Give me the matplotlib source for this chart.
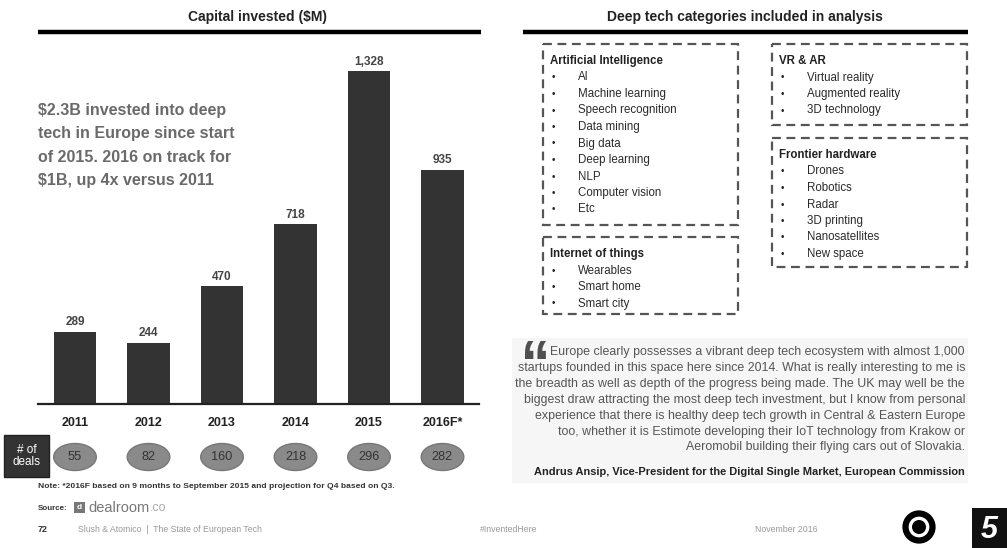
import matplotlib.pyplot as plt
from matplotlib.patches import Rectangle, Ellipse, Circle, PathPatch
from matplotlib.transforms import blended_transform_factory, Affine2D
from matplotlib.textpath import TextPath
from matplotlib.font_manager import FontProperties

years = ["2011", "2012", "2013", "2014", "2015", "2016F*"]
capital = [289, 244, 470, 718, 1328, 935]
deals = [55, 82, 160, 218, 296, 282]

categories = {
    "Artificial Intelligence": ["AI", "Machine learning", "Speech recognition", "Data mining",
                                "Big data", "Deep learning", "NLP", "Computer vision", "Etc"],
    "Internet of things": ["Wearables", "Smart home", "Smart city"],
    "VR & AR": ["Virtual reality", "Augmented reality", "3D technology"],
    "Frontier hardware": ["Drones", "Robotics", "Radar", "3D printing", "Nanosatellites", "New space"],
}

headline = ["$2.3B invested into deep", "tech in Europe since start",
            "of 2015. 2016 on track for", "$1B, up 4x versus 2011"]

quote_lines = [
    "Europe clearly possesses a vibrant deep tech ecosystem with almost 1,000",
    "startups founded in this space here since 2014. What is really interesting to me is",
    "the breadth as well as depth of the progress being made. The UK may well be the",
    "biggest draw attracting the most deep tech investment, but I know from personal",
    "experience that there is healthy deep tech growth in Central & Eastern Europe",
    "too, whether it is Estimote developing their IoT technology from Krakow or",
    "Aeromobil building their flying cars out of Slovakia.",
]
attribution = "Andrus Ansip, Vice-President for the Digital Single Market, European Commission"

W, H = 1007, 548
plt.rcParams["font.family"] = ["Liberation Sans", "DejaVu Sans"]
fig = plt.figure(figsize=(W / 100, H / 100), dpi=100)
fig.patch.set_facecolor("white")

# full-page layer in pixel coordinates (y down)
pg = fig.add_axes([0, 0, 1, 1], zorder=0)
pg.set_xlim(0, W)
pg.set_ylim(H, 0)
pg.axis("off")

# ---- left panel: bar chart ----
pg.text(258, 17, "Capital invested ($M)", ha="center", va="center",
        fontsize=10, fontweight="bold", color="#222")
pg.plot([38, 481], [32, 32], color="black", lw=3.2, solid_capstyle="butt")

base_y, top_y = 404, 53
x0, x1 = 38.25, 479.25
ax = fig.add_axes([x0 / W, (H - base_y) / H, (x1 - x0) / W, (base_y - top_y) / H], zorder=2)
ax.patch.set_alpha(0)
xs = list(range(len(years)))
ax.bar(xs, capital, width=0.585, color="#333333")
ax.set_xlim(-0.5, len(years) - 0.5)
ax.set_ylim(0, 1400)
for s in ["top", "right", "left"]:
    ax.spines[s].set_visible(False)
ax.spines["bottom"].set_linewidth(1.6)
ax.spines["bottom"].set_color("#222")
ax.set_xticks([])
ax.set_yticks([])
for x, v in zip(xs, capital):
    ax.annotate(f"{v:,}", (x, v), xytext=(0, 2.5), textcoords="offset points",
                ha="center", va="bottom", fontsize=8.5, fontweight="bold", color="#444")

tr = blended_transform_factory(ax.transData, ax.transAxes)
axh = base_y - top_y
for x, y, d in zip(xs, years, deals):
    ax.text(x, -19 / axh, y, transform=tr, ha="center", va="center",
            fontsize=9, fontweight="bold", color="#222", clip_on=False)
    ax.add_patch(Ellipse((x, -53 / axh), 0.58, 27 / axh, transform=tr,
                         facecolor="#8a8a8a", edgecolor="#777", clip_on=False))
    ax.text(x, -53 / axh, str(d), transform=tr, ha="center", va="center",
            fontsize=9.2, color="#333", clip_on=False)

pg.add_patch(Rectangle((4, 435), 45, 42, facecolor="#333333", edgecolor="#222"))
pg.text(26.5, 456, "# of\ndeals", ha="center", va="center", fontsize=8.5,
        color="white", linespacing=1.05)

for i, line in enumerate(headline):
    pg.text(38, 110 + i * 23.5, line, ha="left", va="center", fontsize=11.5,
            fontweight="bold", color="#6a6a6a")

# ---- right panel: category boxes ----
pg.text(745, 17, "Deep tech categories included in analysis", ha="center", va="center",
        fontsize=10, fontweight="bold", color="#222")
pg.plot([523, 968], [32, 32], color="black", lw=3.2, solid_capstyle="butt")

boxes = {
    "Artificial Intelligence": (543, 44, 738, 225),
    "Internet of things": (543, 237, 738, 314),
    "VR & AR": (772, 44, 967, 125),
    "Frontier hardware": (772, 138, 967, 267),
}
for name, (bx0, by0, bx1, by1) in boxes.items():
    pg.add_patch(Rectangle((bx0, by0), bx1 - bx0, by1 - by0, fill=False,
                           edgecolor="#555", lw=1.6, linestyle=(0, (4, 2.5))))
    pg.text(bx0 + 7, by0 + 17, name, ha="left", va="center", fontsize=8.3,
            fontweight="bold", color="#222")
    for j, item in enumerate(categories[name]):
        yy = by0 + 33.5 + j * 16.5
        pg.text(bx0 + 10, yy, "\u2022", ha="center", va="center", fontsize=7, color="#222")
        pg.text(bx0 + 35, yy, item, ha="left", va="center", fontsize=8.3, color="#2a2a2a")

# ---- quote ----
pg.add_patch(Rectangle((512, 338), 456, 145, facecolor="#f6f6f6", edgecolor="none", zorder=0))
# big opening quote mark as an outline path, fitted into its spot
qp = TextPath((0, 0), "\u201c", size=10,
              prop=FontProperties(family="Liberation Sans", weight="bold"))
ext = qp.get_extents()
qx0, qy0, qx1, qy1 = 525, 341, 546, 359
sx = (qx1 - qx0) / ext.width
sy = (qy1 - qy0) / ext.height
qt = Affine2D().translate(-ext.x0, -ext.y1).scale(sx, -sy).translate(qx0, qy0)
pg.add_patch(PathPatch(qt.transform_path(qp), facecolor="#505050", edgecolor="none"))
for k, line in enumerate(quote_lines):
    pg.text(965, 352 + k * 15.9, line, ha="right", va="center", fontsize=8.9, color="#555")
pg.text(965, 472, attribution, ha="right", va="center", fontsize=7.9, fontweight="bold",
        color="#222")

# ---- footer ----
pg.text(38, 487, "Note: *2016F based on 9 months to September 2015 and projection for Q4 based on Q3.",
        ha="left", va="center", fontsize=6.1, fontweight="bold", color="#333")
pg.text(38, 508, "Source:", ha="left", va="center", fontsize=5.8, fontweight="bold", color="#333")
pg.add_patch(Rectangle((74, 502), 11, 11, facecolor="#777", edgecolor="none"))
pg.text(79.5, 507.5, "d", ha="center", va="center", fontsize=6, color="white", fontweight="bold")
dr = pg.text(88, 508, "dealroom", ha="left", va="center", fontsize=10.5, color="#777")
pg.annotate(".co", xy=(1, 0.5), xycoords=dr, xytext=(0.5, 0), textcoords="offset points",
            ha="left", va="center", fontsize=9, color="#aaa")
pg.text(38, 530, "72", ha="left", va="center", fontsize=6.5, fontweight="bold", color="#333")
pg.text(78, 530, "Slush & Atomico  |  The State of European Tech", ha="left", va="center",
        fontsize=6.3, color="#999")
pg.text(480, 530, "#InventedHere", ha="left", va="center", fontsize=6.3, color="#999")
pg.text(786, 530, "November 2016", ha="center", va="center", fontsize=6.3, color="#999")

# logos
pg.add_patch(Circle((919, 527), 13.5, fill=False, edgecolor="black", lw=4.5))
pg.add_patch(Circle((919, 527), 7, facecolor="black", edgecolor="none"))
pg.add_patch(Rectangle((972, 508), 35, 40, facecolor="#111", edgecolor="none"))
pg.text(989, 530, "5", ha="center", va="center", fontsize=22, fontweight="bold",
        fontstyle="italic", color="white")

fig.savefig("out.png", dpi=100, facecolor="white")
